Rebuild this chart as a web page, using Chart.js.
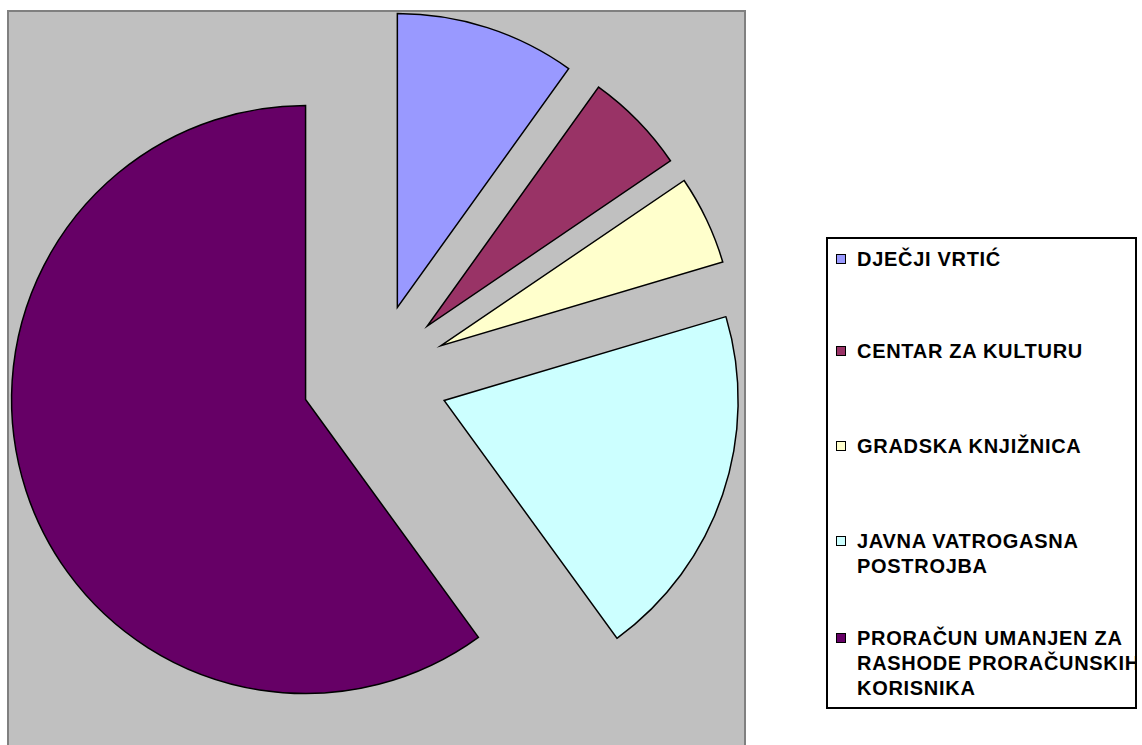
<!DOCTYPE html>
<html>
<head>
<meta charset="utf-8">
<script src="https://cdn.jsdelivr.net/npm/chart.js@4/dist/chart.umd.min.js"></script>
<style>
  html, body { margin: 0; padding: 0; background: #fff; }
  body { width: 1142px; height: 745px; position: relative; overflow: hidden; }
  #plot-bg {
    position: absolute; left: 7px; top: 10px; width: 735px; height: 760px;
    background: #c0c0c0; border: 2px solid #808080;
  }
  #chart { position: absolute; left: 0; top: 0; }
  #legend {
    position: absolute; left: 826px; top: 237px; width: 307px; height: 468px;
    border: 2px solid #000; background: #fff; overflow: hidden;
    font-family: "Liberation Sans", Arial, sans-serif; font-weight: bold;
    font-size: 20px; line-height: 25px; letter-spacing: 0.7px; color: #000;
  }
  .item { position: absolute; left: 0; white-space: nowrap; }
  .swatch {
    position: absolute; left: 8px; top: 7px; width: 8px; height: 8px;
    border: 1.5px solid #000;
  }
  .text { position: absolute; left: 29px; top: 0; }
</style>
</head>
<body>
<div id="plot-bg"></div>
<canvas id="chart" width="1142" height="745"></canvas>
<div id="legend"></div>
<script>
"use strict";

// Pie of budget shares, slices exploded out from the centre.

const categories = [
  ["DJEČJI VRTIĆ"],
  ["CENTAR ZA KULTURU"],
  ["GRADSKA KNJIŽNICA"],
  ["JAVNA VATROGASNA", "POSTROJBA"],
  ["PRORAČUN UMANJEN ZA", "RASHODE PRORAČUNSKIH", "KORISNIKA"],
];
const shares = [9.9, 5.6, 4.9, 19.6, 60.0];
const sliceColors = ["#9999ff", "#993366", "#ffffcc", "#ccffff", "#660066"];

// Chart.js grows the radius when `offset` is set; here offset is just a shift.
const arcDraw = Chart.ArcElement.prototype.draw;
Chart.ArcElement.prototype.draw = function (ctx) {
  const shift = this.options.offset || 0;
  if (!shift) return arcDraw.call(this, ctx);
  const mid = (this.startAngle + this.endAngle) / 2;
  const opts = this.options;
  this.options = Object.assign({}, opts, { offset: 0 });
  ctx.save();
  ctx.translate(Math.cos(mid) * shift, Math.sin(mid) * shift);
  arcDraw.call(this, ctx);
  ctx.restore();
  this.options = opts;
};

new Chart(document.getElementById("chart"), {
  type: "pie",
  data: {
    labels: categories.map(c => c.join(" ")),
    datasets: [{
      data: shares,
      backgroundColor: sliceColors,
      borderColor: "#000",
      borderWidth: 1.5,
      borderJoinStyle: "miter",
      offset: 73,
      hoverOffset: 0,
    }],
  },
  options: {
    responsive: false,
    animation: false,
    events: [],
    radius: 294,
    layout: { padding: { left: 10, right: 402, top: 20, bottom: 11 } },
    plugins: {
      legend: { display: false },
      tooltip: { enabled: false },
    },
  },
});

// ---- Legend ----
const legend = document.getElementById("legend");
const itemTops = [8, 100, 195, 290, 387];
categories.forEach((lines, i) => {
  const item = document.createElement("div");
  item.className = "item";
  item.style.top = itemTops[i] + "px";
  const sw = document.createElement("span");
  sw.className = "swatch";
  sw.style.background = sliceColors[i];
  const txt = document.createElement("div");
  txt.className = "text";
  txt.innerHTML = lines.map(l => `<div>${l}</div>`).join("");
  item.appendChild(sw);
  item.appendChild(txt);
  legend.appendChild(item);
});
</script>
</body>
</html>
